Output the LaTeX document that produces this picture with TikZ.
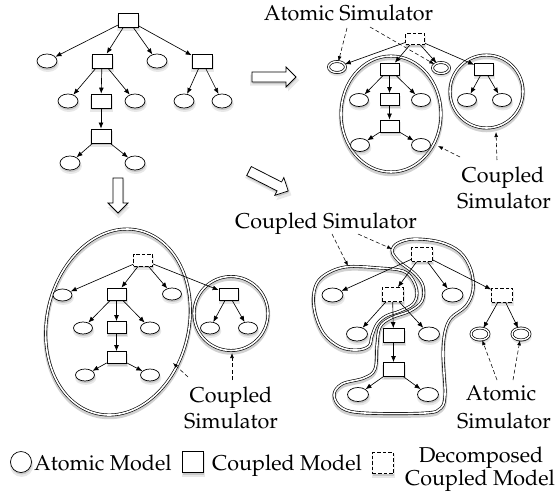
\documentclass[tikz,border=0pt]{standalone}
\usepackage[T1]{fontenc}
\usepackage{mathpazo}
\usetikzlibrary{shapes.geometric,shadows,arrows.meta}
\newcommand\lbfont{\fontsize{21.5}{26}\selectfont}
\tikzset{
 shad/.style={drop shadow={shadow xshift=0.6pt, shadow yshift=-2.8pt, opacity=0.18, shadow scale=1.12},
              drop shadow={shadow xshift=0.6pt, shadow yshift=-2pt, opacity=0.3}},
 amod/.style={draw, fill=white, ellipse, line width=0.7pt, inner sep=0pt, minimum width=20pt, minimum height=14pt, shad},
 cmod/.style={draw, fill=white, rectangle, line width=0.7pt, inner sep=0pt, minimum width=20pt, minimum height=14pt, shad},
 dmod/.style={cmod, dash pattern=on 3.5pt off 2pt},
 asim/.style={amod, double, double distance=1.4pt, minimum width=17pt, minimum height=11pt},
 link/.style={-{Latex[length=6pt,width=4.8pt]}, line width=0.65pt},
 note/.style={-{Latex[length=5pt,width=3.8pt]}, line width=0.55pt, dash pattern=on 4pt off 2.5pt},
 csim/.style={draw, line width=0.65pt, double, double distance=1.6pt, preaction={draw=black, opacity=0.18, line width=4.5pt, transform canvas={yshift=-2pt}}},
 lbl/.style={font=\lbfont, inner sep=0pt, anchor=base},
 fatarrow/.style={draw, fill=white, line width=0.75pt, shad},
 fatarr/.pic={\path[fatarrow] (0,-5) -- (#1-10,-5) -- (#1-10,-10) -- (#1,0) -- (#1-10,10) -- (#1-10,5) -- (0,5) -- cycle;}
}
\begin{document}
\begin{tikzpicture}[x=1pt,y=-1pt]
\useasboundingbox (0,0) rectangle (556,498);

% ---------------- big hollow arrows
\pic at (252,77) {fatarr=44};
\pic[rotate=-90] at (118,178) {fatarr=35};
\pic[rotate=-27] at (249,171) {fatarr=44};

% ---------------- top-left tree
\node[cmod] (a0) at (128,20) {};
\node[amod] (a1) at (47,61) {};
\node[cmod] (a2) at (102,61) {};
\node[amod] (a3) at (157,61) {};
\node[cmod] (a4) at (202,61) {};
\node[amod] (a5) at (68,101) {};
\node[cmod] (a6) at (101,101) {};
\node[amod] (a7) at (135,101) {};
\node[amod] (a8) at (184,101) {};
\node[amod] (a9) at (222,101) {};
\node[cmod] (a10) at (101,136) {};
\node[amod] (a11) at (70,163) {};
\node[amod] (a12) at (135,163) {};
\foreach \s/\t in {a0/a1,a0/a2,a0/a3,a0/a4,a2/a5,a2/a6,a2/a7,a4/a8,a4/a9,a6/a10,a10/a11,a10/a12}
  \draw[link] (\s) -- (\t);

% ---------------- top-right
\draw[csim] (391,114) ellipse [x radius=50pt, y radius=58pt];
\draw[csim] (486.5,91.5) circle [radius=36.5pt];
\begin{scope}[amod/.append style={minimum width=19pt, minimum height=13pt},
              cmod/.append style={minimum width=19pt, minimum height=12pt}]
\node[dmod, minimum height=11pt] (b0) at (415,39) {};
\node[asim] (b1) at (337,67) {};
\node[cmod] (b2) at (389.5,69) {};
\node[asim] (b3) at (441,68) {};
\node[cmod] (b4) at (484,69) {};
\node[amod] (b5) at (359,100) {};
\node[cmod] (b6) at (389.5,99.5) {};
\node[amod] (b7) at (421,100) {};
\node[cmod] (b8) at (389.5,126) {};
\node[amod] (b9) at (360,145) {};
\node[amod] (b10) at (421,145) {};
\node[amod] (b11) at (467,100) {};
\node[amod] (b12) at (502,100) {};
\end{scope}
\foreach \s/\t in {b0/b1,b0/b2,b0/b3,b0/b4,b2/b5,b2/b6,b2/b7,b6/b8,b8/b9,b8/b10,b4/b11,b4/b12}
  \draw[link] (\s) -- (\t);
\node[lbl] (tAS) at (348.5,20) {Atomic Simulator};
\coordinate (tAS1) at (347,28);
\coordinate (tAS2) at (370,27);
\draw[note] (tAS1) -- (b1);
\draw[note] (tAS2) -- (b3);
\node[lbl] (tCS1) at (503,182) {Coupled};
\node[lbl] (tCS2) at (504,208) {Simulator};
\coordinate (tc1) at (460,157);
\coordinate (tc1e) at (438,146);
\coordinate (tc2) at (497,160);
\coordinate (tc2e) at (496,132);
\draw[note] (tc1) -- (tc1e);
\draw[note] (tc2) -- (tc2e);

% ---------------- bottom-left
\draw[csim, rotate around={-13:(118,322)}] (118,322) ellipse [x radius=71pt, y radius=94pt];
\draw[csim] (231,313.5) circle [radius=37pt];
\begin{scope}[amod/.append style={minimum width=19pt, minimum height=12pt},
              cmod/.append style={minimum width=19pt, minimum height=12pt}]
\node[dmod] (c0) at (143,260) {};
\node[amod] (c1) at (62.5,295) {};
\node[cmod] (c2) at (116.5,294) {};
\node[amod] (c3) at (172,294) {};
\node[cmod] (c4) at (228.5,294) {};
\node[amod] (c5) at (83,328) {};
\node[cmod] (c6) at (116.5,327.5) {};
\node[amod] (c7) at (150,328) {};
\node[cmod] (c8) at (116.5,357.5) {};
\node[amod] (c9) at (85,375) {};
\node[amod] (c10) at (150,375) {};
\node[amod] (c11) at (210,328) {};
\node[amod] (c12) at (248,328) {};
\end{scope}
\foreach \s/\t in {c0/c1,c0/c2,c0/c3,c0/c4,c2/c5,c2/c6,c2/c7,c6/c8,c8/c9,c8/c10,c4/c11,c4/c12}
  \draw[link] (\s) -- (\t);
\node[lbl] (lCS1) at (231,402) {Coupled};
\node[lbl] (lCS2) at (231,428) {Simulator};
\coordinate (lc1) at (188,377);
\coordinate (lc1e) at (173,363);
\coordinate (lc2) at (232,380);
\coordinate (lc2e) at (232,353);
\draw[note] (lc1) -- (lc1e);
\draw[note] (lc2) -- (lc2e);

% ---------------- bottom-right
\draw[csim] plot[smooth cycle, tension=0.6] coordinates {(345,267) (380,268) (403,271) (413,280) (417,293) (413,304) (400,311) (386,316) (377,324) (372,336) (369,346) (357,350) (340,347) (324,334) (315,313) (314,292) (322,277)};
\draw[csim] plot[smooth cycle, tension=0.6] coordinates {(392,250) (398,243) (414,239) (440,242) (460,252) (471,270) (473,290) (466,306) (451,318) (445,332) (443,352) (444,373) (445,395) (441,408) (425,413) (365,413) (342,408) (334,395) (342,384) (364,378) (375,369) (377,345) (380,327) (391,318) (410,311) (422,301) (423,286) (415,274) (402,264) (395,257)};
\begin{scope}[amod/.append style={minimum width=21pt, minimum height=14pt},
              cmod/.append style={minimum width=21pt, minimum height=14pt}]
\node[dmod] (d0) at (422,254.5) {};
\node[amod] (d1) at (332.5,295) {};
\node[dmod] (d2) at (392.5,294.5) {};
\node[amod] (d3) at (452.5,295) {};
\node[dmod] (d4) at (502,295) {};
\node[amod] (d5) at (357,334) {};
\node[cmod] (d6) at (393.5,335.5) {};
\node[amod] (d7) at (429,334) {};
\node[cmod] (d8) at (393.5,369.5) {};
\node[amod] (d9) at (358,394.5) {};
\node[amod] (d10) at (428,394.5) {};
\node[asim, minimum width=18pt, minimum height=12pt] (d11) at (480,334) {};
\node[asim, minimum width=18pt, minimum height=12pt] (d12) at (521,334) {};
\end{scope}
\foreach \s/\t in {d0/d1,d0/d2,d0/d3,d0/d4,d2/d5,d2/d6,d2/d7,d6/d8,d8/d9,d8/d10,d4/d11,d4/d12}
  \draw[link] (\s) -- (\t);
\node[lbl] (rCS) at (326,228) {Coupled Simulator};
\coordinate (rc1) at (332,234);
\coordinate (rc1e) at (348,266);
\coordinate (rc2) at (358,234);
\coordinate (rc2e) at (392,249);
\draw[note] (rc1) -- (rc1e);
\draw[note] (rc2) -- (rc2e);
\node[lbl] (rAS1) at (501,400) {Atomic};
\node[lbl] (rAS2) at (504,428) {Simulator};
\coordinate (ra1) at (497,380);
\coordinate (ra2) at (513,380);
\draw[note] (ra1) -- (d11);
\draw[note] (ra2) -- (d12);

% ---------------- legend
\node[amod, shape=circle, minimum size=21pt] (g1) at (21,462) {};
\node[lbl, anchor=base west] (g1t) at (34,470) {Atomic Model};
\node[cmod, minimum width=21pt, minimum height=21pt] (g2) at (193,462) {};
\node[lbl, anchor=base west] (g2t) at (212,470) {Coupled Model};
\node[dmod, minimum width=21pt, minimum height=21pt] (g3) at (383,463) {};
\node[lbl] (g3t) at (481,462) {Decomposed};
\node[lbl] (g3u) at (480,485) {Coupled Model};
\end{tikzpicture}
\end{document}
